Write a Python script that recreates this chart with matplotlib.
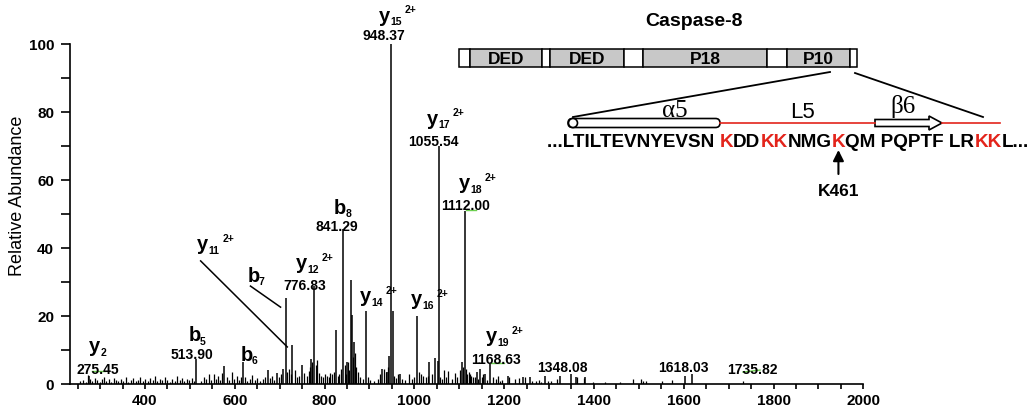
import matplotlib
matplotlib.use('Agg')
import matplotlib.pyplot as plt
from matplotlib.ticker import MultipleLocator
from matplotlib.patches import FancyBboxPatch, Circle, FancyArrow
import numpy as np

plt.rcParams['font.family'] = ['Liberation Sans', 'DejaVu Sans']

# ---- spectrum data (m/z, relative abundance) ----
ion_mz = [275.45, 513.90, 577, 617.8, 673.5, 693.5, 708, 714, 728, 749, 770, 776.83,
          825.6, 841.29, 851, 859, 862, 866, 892, 927, 938.5, 944.6, 948.37, 952, 968,
          1006, 1033, 1046, 1052, 1055.54, 1105.5, 1112.00, 1139, 1146, 1158, 1168.63,
          1209, 1243, 1258, 1290, 1325, 1348.08, 1359, 1379, 1603, 1618.03]
ion_int = [2.5, 7.4, 5.4, 6.5, 4.2, 3.3, 4.5, 25.3, 11.6, 5.5, 7.5, 28.7,
           16.0, 45.6, 6.5, 30.6, 20.2, 12.5, 21.6, 4.5, 3.5, 8.2, 100, 21.6, 3.0,
           19.9, 6.4, 7.6, 6.8, 70, 6.6, 51, 3.5, 4.4, 3.0, 6.0,
           2.5, 2.0, 2.2, 2.5, 2.3, 2.8, 2.2, 2.0, 2.4, 3.0]

bg_mz = [255, 262, 268, 272, 278, 283, 288, 293, 299, 304, 309, 314, 320, 325, 331, 336,
         341, 347, 352, 358, 363, 368, 374, 379, 385, 390, 395, 401, 406, 411, 417, 422,
         427, 433, 438, 444, 449, 455, 460, 466, 471, 477, 482, 487, 493, 498, 504, 509,
         525, 531, 537, 542, 548, 553, 558, 563, 568, 572, 583, 588, 593, 599, 604, 609,
         614, 623, 628, 634, 639, 645, 650, 656, 662, 667, 679, 684, 688, 698, 703, 717,
         721, 725, 735, 739, 744, 755, 760, 765, 768, 773, 780, 784, 788, 792, 797, 801,
         805, 809, 813, 817, 821, 829, 833, 837, 845, 848, 852, 855, 864, 868, 870, 874,
         879, 885, 896, 902, 911, 918, 923, 932, 936, 941, 955, 959, 963, 972, 980, 987,
         995, 1000, 1010, 1014, 1020, 1025, 1030, 1040, 1058, 1062, 1067, 1071, 1076, 1083,
         1090, 1096, 1101, 1109, 1115, 1118, 1121, 1124, 1127, 1130, 1134, 1142, 1150, 1153,
         1162, 1176, 1181, 1186, 1191, 1196, 1210, 1225, 1232, 1246, 1262, 1271, 1277, 1283,
         1298, 1305, 1318, 1362, 1377, 1398, 1424, 1458, 1486, 1504, 1510, 1517, 1551, 1575,
         1732]
bg_int = [0.8, 1.2, 0.6, 2.6, 1.5, 0.9, 1.8, 1.1, 0.7, 1.6, 2.2, 1.0, 1.4, 0.6, 1.9, 1.2,
          0.8, 1.5, 1.0, 2.0, 0.7, 1.3, 1.7, 0.9, 1.2, 2.1, 1.0, 1.5, 0.8, 1.8, 1.2, 2.3,
          0.9, 1.4, 1.1, 2.0, 1.3, 0.7, 1.6, 1.0, 2.4, 1.2, 1.8, 0.9, 1.5, 1.1, 1.9, 0.8,
          1.0, 2.2, 1.4, 2.8, 1.1, 3.0, 1.5, 2.4, 1.2, 3.2, 2.0, 1.3, 3.4, 1.6, 2.5, 1.2,
          2.0, 2.1, 1.0, 1.6, 2.7, 1.2, 1.8, 0.9, 1.5, 2.2, 1.8, 2.5, 1.2, 2.0, 3.0, 3.5,
          4.5, 3.0, 4.0, 2.2, 2.5, 3.2, 2.5, 3.8, 5.0, 6.5, 5.5, 7.0, 3.2, 2.5, 2.0, 3.0,
          2.5, 2.2, 3.2, 2.8, 3.5, 2.5, 3.0, 4.5, 5.5, 3.0, 6.5, 4.0, 8.0, 9.0, 5.0, 3.5,
          2.0, 1.5, 2.0, 1.2, 1.0, 1.5, 3.0, 4.5, 3.5, 5.0, 2.5, 1.8, 2.8, 1.5, 1.2, 3.0,
          1.5, 2.0, 3.5, 2.8, 2.5, 2.0, 2.5, 3.0, 2.0, 1.5, 4.0, 2.0, 3.8, 1.5,
          3.2, 2.2, 4.0, 5.0, 4.5, 3.0, 3.5, 2.8, 2.5, 2.2, 2.0, 1.5, 2.0, 3.0,
          1.2, 2.0, 1.5, 2.5, 1.0, 1.2, 2.0, 1.5, 1.8, 2.2, 1.0, 0.8, 1.2, 0.7,
          1.0, 0.8, 1.5, 2.0, 1.8, 0.6, 0.6, 0.5, 1.5, 1.5, 1.0, 0.8, 1.0, 1.2,
          0.8]

# ion labels: (x, y baseline, letter, subscript, superscript)
ion_labels = [(921, 106.9, 'y', '15', '2+'), (1028, 76.6, 'y', '17', '2+'),
              (1099, 57.5, 'y', '18', '2+'), (821, 50.3, 'b', '8', None),
              (515, 39.6, 'y', '11', '2+'), (628, 30.3, 'b', '7', None),
              (737, 34.0, 'y', '12', '2+'), (879, 24.3, 'y', '14', '2+'),
              (993, 23.4, 'y', '16', '2+'), (1159, 12.5, 'y', '19', '2+'),
              (275, 9.6, 'y', '2', None), (497, 12.9, 'b', '5', None),
              (613, 7.1, 'b', '6', None)]
mass_labels = [('948.37', 933, 102.6), ('1055.54', 1042, 71.5), ('1112.00', 1115, 52.6),
               ('841.29', 828, 46.5), ('776.83', 755, 29.1), ('1168.63', 1182, 7.4),
               ('275.45', 295, 4.4), ('513.90', 504, 8.8), ('1348.08', 1330, 5.0),
               ('1618.03', 1599, 5.0), ('1735.82', 1752, 4.4)]
pointer_lines = [((524, 36.2), (717, 10.9)), ((635, 28.8), (702, 22.6))]
green_marks = [((282, 311), (3.8, 3.8)), ((1115, 1137), (51.2, 51.2)),
               ((1170, 1199), (6.2, 6.2)), ((1732, 1770), (3.5, 4.1))]

# caspase-8 domain layout (residues)
dom_names = ['', 'DED', '', 'DED', '', 'P18', '', 'P10', '']
dom_len = [13, 87, 10, 88, 24, 149, 24, 76, 8]

seq_parts = [('...LTILTEVNYEVSN ', 'black'), ('K', 'red'), ('DD', 'black'),
             ('KK', 'red'), ('NMG', 'black'), ('K', 'red'), ('QM PQPTF LR', 'black'),
             ('KK', 'red'), ('L...', 'black')]
red = '#e3241b'

fig = plt.figure(figsize=(10.29, 4.14), dpi=100)
ax = fig.add_axes([70 / 1029, 29 / 414, 793.3 / 1029, 340 / 414])

ax.vlines(bg_mz, 0, bg_int, color='black', lw=0.9)
ax.vlines(ion_mz, 0, ion_int, color='black', lw=1.1)

ax.set_xlim(233, 2000)
ax.set_ylim(0, 100)
for s in ['top', 'right']:
    ax.spines[s].set_visible(False)
for s in ['left', 'bottom']:
    ax.spines[s].set_linewidth(1.2)
ax.set_xticks(np.arange(400, 2001, 200))
ax.xaxis.set_minor_locator(MultipleLocator(50))
ax.set_yticks(np.arange(0, 101, 20))
ax.yaxis.set_minor_locator(MultipleLocator(10))
ax.tick_params(which='both', direction='out', width=1.2, labelsize=11)
ax.tick_params(axis='y', which='both', length=6.5, pad=5)
ax.tick_params(axis='x', which='both', length=3.5, pad=3)
for lab in ax.get_xticklabels() + ax.get_yticklabels():
    lab.set_fontweight('bold')
fig.text(18 / 1029, 1 - 196 / 414, 'Relative Abundance', rotation=90,
         fontsize=13, ha='center', va='center')


def ion(x, y, base, sub, sup):
    kw = dict(textcoords='offset points', ha='left', va='baseline', fontweight='bold',
              annotation_clip=False)
    ax.annotate(base, (x, y), xytext=(0, 0), fontsize=14.5, **kw)
    ax.annotate(sub, (x, y), xytext=(8.2, -2.5), fontsize=7.5, **kw)
    if sup:
        ax.annotate(sup, (x, y), xytext=(8.2 + 4.2 * len(sub) + 2, 6), fontsize=7.5, **kw)


for x, y, b, sb, sp in ion_labels:
    ion(x, y, b, sb, sp)
for t, x, y in mass_labels:
    ax.text(x, y, t, ha='center', va='center', fontsize=10, fontweight='bold', clip_on=False)
for (x0, y0), (x1, y1) in pointer_lines:
    ax.plot([x0, x1], [y0, y1], color='black', lw=1.1, clip_on=False)
for xs, ys in green_marks:
    ax.plot(xs, ys, color='#6ccf4f', lw=1.0, clip_on=False)

# ---- caspase-8 domain bar ----
axd = fig.add_axes([459 / 1029, 1 - 68 / 414, 398 / 1029, 18 / 414])
starts = np.concatenate([[0], np.cumsum(dom_len)[:-1]])
cols = ['#c8c8c8' if n else 'white' for n in dom_names]
axd.barh(0.5, dom_len, left=starts, height=1, color=cols, edgecolor='black', lw=1.1,
         clip_on=False)
for n, s0, w in zip(dom_names, starts, dom_len):
    if n:
        axd.text(s0 + w / 2, 0.45, n, ha='center', va='center', fontsize=12.5,
                 fontweight='bold')
axd.set_xlim(0, sum(dom_len))
axd.set_ylim(0, 1)
axd.axis('off')

# ---- overlay in pixel units ----
ov = fig.add_axes([0, 0, 1, 1])
ov.set_xlim(0, 1029)
ov.set_ylim(414, 0)
ov.axis('off')
ov.patch.set_alpha(0)

ov.text(694, 22, 'Caspase-8', ha='center', va='center', fontsize=14, fontweight='bold')
ov.plot([830, 573], [73, 118], color='black', lw=1.3)
ov.plot([855, 983], [74, 118], color='black', lw=1.3)
ov.plot([720, 875], [124, 124], color=red, lw=1.2)
ov.plot([942, 1000], [124, 124], color=red, lw=1.2)
ov.add_patch(FancyBboxPatch((568, 119.5), 152, 9, boxstyle='round,pad=0,rounding_size=4.5',
                            fc='white', ec='black', lw=1.2))
ov.add_patch(Circle((573, 124), 4.5, fc='white', ec='black', lw=1.2))
ov.add_patch(FancyArrow(875, 124, 67, 0, width=7, head_width=14, head_length=13,
                        length_includes_head=True, fc='white', ec='black', lw=1.2))
ov.text(675, 111, 'α5', ha='center', va='center', fontsize=18, family='Liberation Serif')
ov.text(802, 113, 'L5', ha='center', va='center', fontsize=16)
ov.text(903, 107, 'β6', ha='center', va='center', fontsize=18, family='Liberation Serif')

r = fig.canvas.get_renderer()
seq_kw = dict(fontsize=13.6, fontweight='bold', va='center', ha='left')


def width(s):
    t = ov.text(0, 0, s + 'L', **seq_kw)
    w = t.get_window_extent(r).width
    t.remove()
    t = ov.text(0, 0, 'L', **seq_kw)
    w -= t.get_window_extent(r).width
    t.remove()
    return w


x0 = 547
prefix = ''
k_pos = []
for s, c in seq_parts:
    xs = x0 + width(prefix) if prefix else x0
    ov.text(xs, 143, s, color=red if c == 'red' else 'black', **seq_kw)
    if c == 'red' and s == 'K' and prefix.endswith('NMG'):
        t = ov.text(0, 0, 'K', **seq_kw)
        k_pos.append(xs + t.get_window_extent(r).width / 2)
        t.remove()
    prefix += s

kx = k_pos[0] if k_pos else 835
ov.annotate('', xy=(kx, 151), xytext=(kx, 175),
            arrowprops=dict(arrowstyle='-|>', color='black', lw=1.5, mutation_scale=16,
                            shrinkA=0, shrinkB=0))
ov.text(kx, 192, 'K461', ha='center', va='center', fontsize=12.5, fontweight='bold')

fig.savefig('out.png', dpi=100)
